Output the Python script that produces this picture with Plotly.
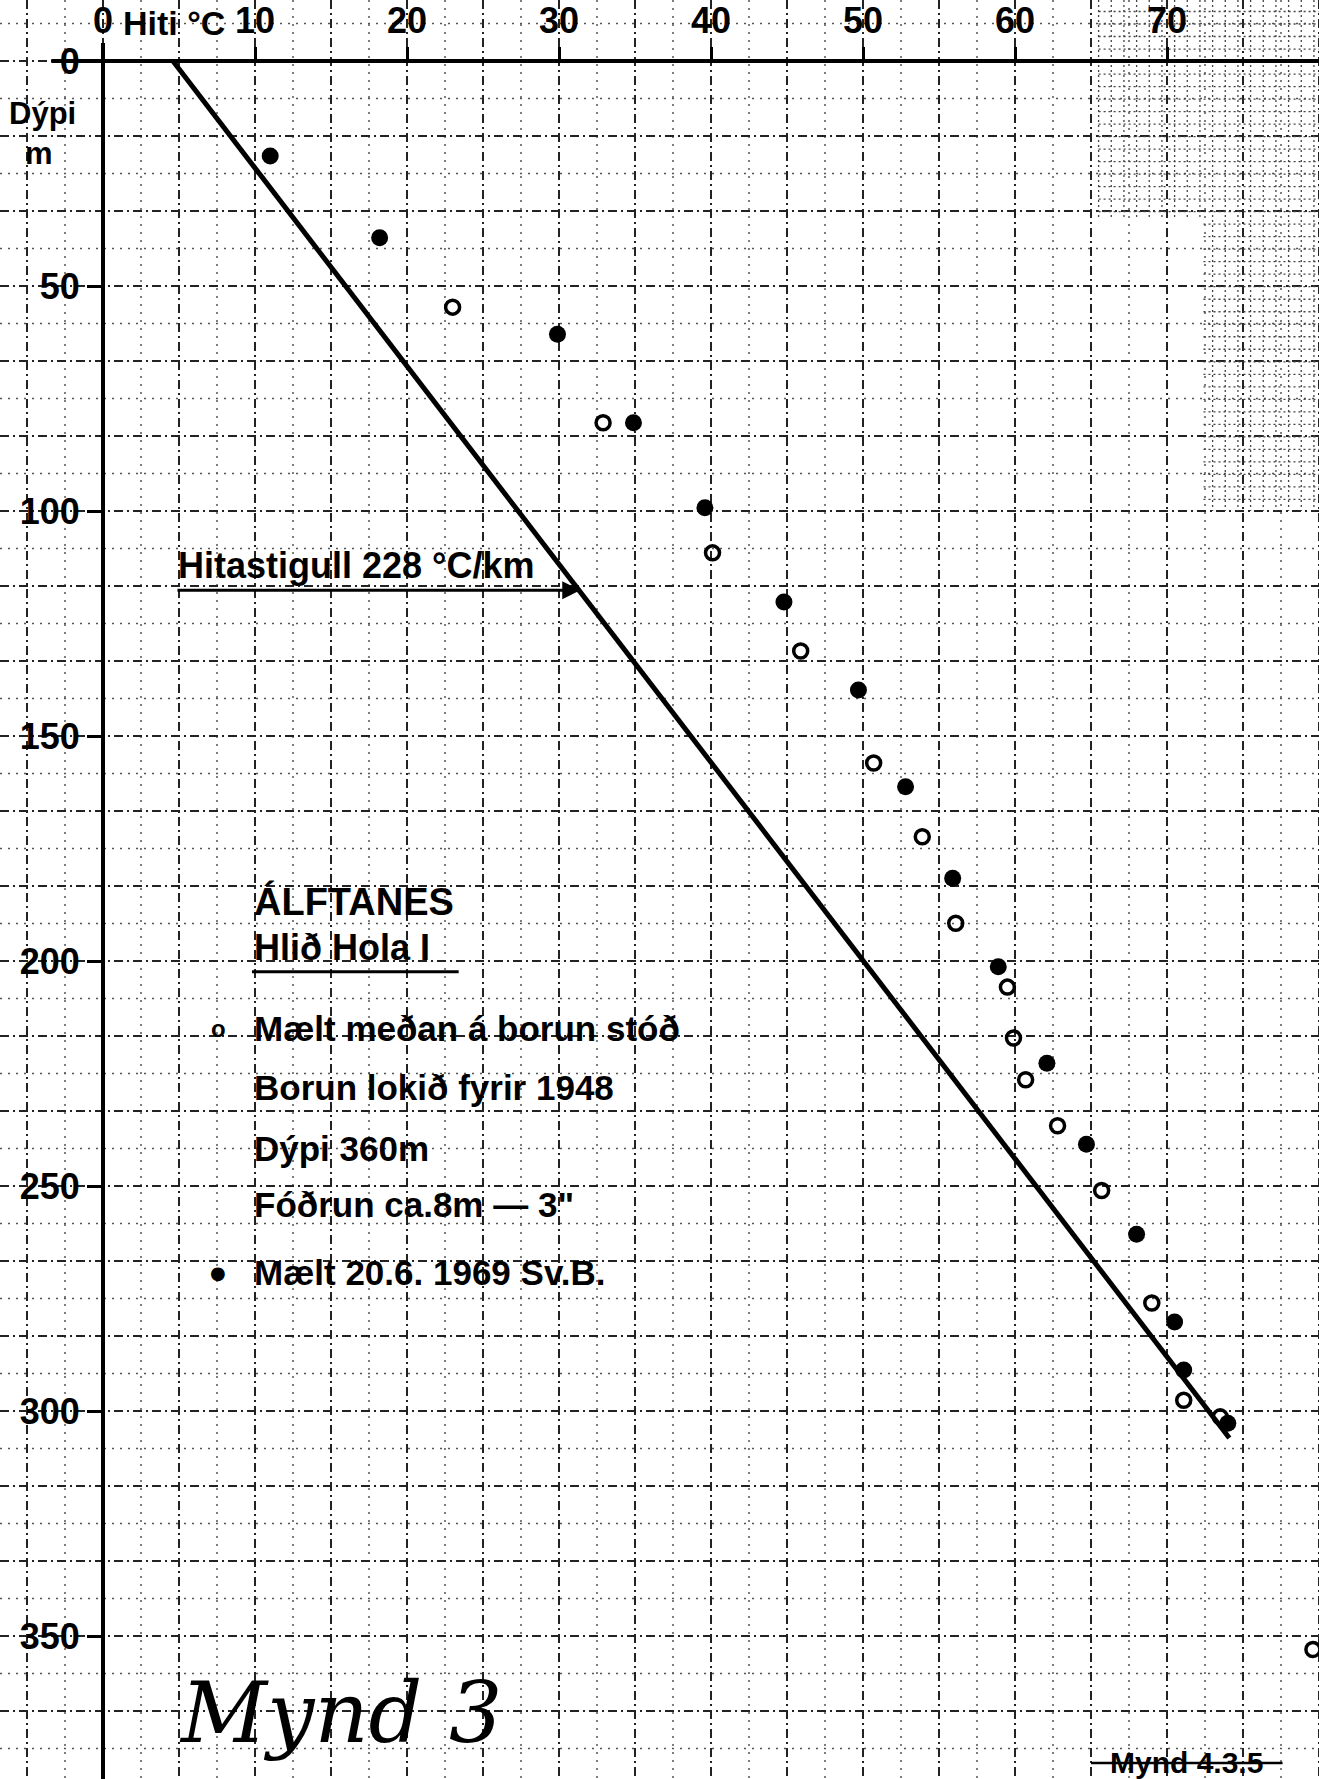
import numpy as np
import plotly.graph_objects as go

# ---------------- data ----------------
# Line: temperature gradient 228 °C/km
line_T = [4.6, 74.1]
line_z = [0, 306]

# Open circles: "Mælt meðan á borun stóð"
open_T = [23.0, 32.9, 40.1, 45.9, 50.7, 53.9, 56.1, 59.5, 59.9, 60.7, 62.8, 65.7, 69.0, 71.1, 73.5, 79.6]
open_z = [54.7, 80.4, 109.3, 131.1, 156.0, 172.4, 191.6, 205.8, 217.1, 226.4, 236.6, 251.0, 276.0, 297.6, 301.3, 353.0]

# Filled circles: "Mælt 20.6. 1969 Sv.B."
fill_T = [11.0, 18.2, 29.9, 34.9, 39.6, 44.8, 49.7, 52.8, 55.9, 58.9, 62.1, 64.7, 68.0, 70.5, 71.1, 74.0]
fill_z = [21.1, 39.3, 60.7, 80.4, 99.3, 120.2, 139.8, 161.3, 181.6, 201.3, 222.7, 240.7, 260.7, 280.2, 290.9, 302.7]

x_ticks = [0, 10, 20, 30, 40, 50, 60, 70]
x_ticktext = ["0", "10", "20", "30", "40", "50", "60", "70"]
y_ticks = [0, 50, 100, 150, 200, 250, 300, 350]
y_ticktext = ["0", "50", "100", "150", "200", "250", "300", "350"]

legend_lines = [
    "Mælt meðan á borun stóð",
    "Borun lokið fyrir 1948",
    "Dýpi 360m",
    "Fóðrun ca.8m — 3\"",
    "Mælt 20.6. 1969 Sv.B.",
]

# ---------------- figure ----------------
W, H = 1319, 1779
X0_PX, Y0_PX = 103, 61
PX_PER_C, PX_PER_M = 15.2, 4.5
X_RANGE = [-X0_PX / PX_PER_C, (W - X0_PX) / PX_PER_C]
Y_RANGE = [(H - Y0_PX) / PX_PER_M, -Y0_PX / PX_PER_M]
FONT = "Liberation Sans"

fig = go.Figure()

fig.add_trace(go.Scatter(x=line_T, y=line_z, mode="lines",
                         line=dict(color="black", width=5), showlegend=False, hoverinfo="skip"))
fig.add_trace(go.Scatter(x=open_T, y=open_z, mode="markers",
                         marker=dict(symbol="circle-open", size=14, color="black",
                                     line=dict(width=3.5, color="black")),
                         showlegend=False))
fig.add_trace(go.Scatter(x=fill_T, y=fill_z, mode="markers",
                         marker=dict(symbol="circle", size=17, color="black"),
                         showlegend=False))

shapes = []
MAJ = dict(color="#222", width=2, dash="9px,4px,2px,4px")
MIN = dict(color="#555", width=1.5, dash="2px,6px")
FINE = dict(color="#444", width=1.3, dash="2px,3px")
# graph-paper grid
for t in np.arange(-5, 80.01, 2.5):
    major = abs(t / 5 - round(t / 5)) < 1e-6
    shapes.append(dict(type="line", xref="x", yref="y", x0=t, x1=t, y0=Y_RANGE[1], y1=Y_RANGE[0],
                       layer="below", line=MAJ if major else MIN))
step = 50 / 6
for k in range(-1, 47):
    z = k * step
    shapes.append(dict(type="line", xref="x", yref="y", x0=X_RANGE[0], x1=X_RANGE[1], y0=z, y1=z,
                       layer="below", line=MAJ if k % 2 == 0 else MIN))
# denser paper region, top right
for t in np.arange(65.5, 80.01, 0.8333):
    shapes.append(dict(type="line", xref="x", yref="y", x0=t, x1=t, y0=Y_RANGE[1],
                       y1=35 if t < 72.4 else 100, layer="below", line=FINE))
for z in np.arange(-11, 100.01, 2.78):
    shapes.append(dict(type="line", xref="x", yref="y", x0=65.5 if z < 35 else 72.4, x1=X_RANGE[1],
                       y0=z, y1=z, layer="below", line=FINE))
# axes lines
shapes.append(dict(type="line", xref="x", yref="y", x0=-3.4, x1=X_RANGE[1], y0=0, y1=0,
                   line=dict(color="black", width=4)))
shapes.append(dict(type="line", xref="x", yref="y", x0=0, x1=0, y0=-4, y1=Y_RANGE[0],
                   line=dict(color="black", width=4)))
# underline of the title
shapes.append(dict(type="line", xref="x", yref="y", x0=9.8, x1=23.4, y0=202.4, y1=202.4,
                   line=dict(color="black", width=3)))
# strike-through of "Mynd 4.3.5"
shapes.append(dict(type="line", xref="x", yref="y", x0=65.0, x1=77.6, y0=378.2, y1=378.2,
                   line=dict(color="black", width=2.5)))

ann = []
ann.append(dict(x=4.7, y=-8.4, text="<b>Hiti °C</b>", showarrow=False, xanchor="center", yanchor="middle",
                font=dict(size=34, color="black", family=FONT)))
ann.append(dict(x=-3.95, y=11.6, text="<b>Dýpi</b>", showarrow=False, xanchor="center", yanchor="middle",
                font=dict(size=31, color="black", family=FONT)))
ann.append(dict(x=-4.2, y=20.6, text="<b>m</b>", showarrow=False, xanchor="center", yanchor="middle",
                font=dict(size=31, color="black", family=FONT)))
# gradient label and arrow
ann.append(dict(x=4.8, y=112.0, text="<b>Hitastigull 228 °C/km</b>", showarrow=False,
                xanchor="left", yanchor="middle",
                font=dict(size=36, color="black", family=FONT)))
ann.append(dict(x=31.4, y=117.6, ax=4.8, ay=117.6, axref="x", ayref="y", xref="x", yref="y",
                text="", showarrow=True, arrowhead=2, arrowsize=1.2, arrowwidth=3,
                arrowcolor="black"))
# legend block
ann.append(dict(x=9.8, y=186.7, text="<b>ÁLFTANES</b>", showarrow=False, xanchor="left", yanchor="middle",
                font=dict(size=38, color="black", family=FONT)))
ann.append(dict(x=9.8, y=196.9, text="<b>Hlið Hola I</b>", showarrow=False, xanchor="left", yanchor="middle",
                font=dict(size=36, color="black", family=FONT)))
leg_z = [214.9, 228.2, 241.7, 254.0, 269.3]
for txt, z in zip(legend_lines, leg_z):
    ann.append(dict(x=9.8, y=z, text="<b>" + txt + "</b>", showarrow=False, xanchor="left", yanchor="middle",
                    font=dict(size=35, color="black", family=FONT)))
ann.append(dict(x=7.57, y=leg_z[0], text="<b>o</b>", showarrow=False, xanchor="center", yanchor="middle",
                font=dict(size=24, color="black", family=FONT)))
ann.append(dict(x=7.57, y=leg_z[4], text="●", showarrow=False, xanchor="center", yanchor="middle",
                font=dict(size=18, color="black", family="DejaVu Sans")))
# handwritten figure number
ann.append(dict(x=15.6, y=367.0, text="<i>Mynd 3</i>", showarrow=False, xanchor="center", yanchor="middle",
                font=dict(size=84, color="black", family="DejaVu Serif")))
ann.append(dict(x=71.3, y=378.0, text="<b>Mynd 4.3.5</b>", showarrow=False, xanchor="center", yanchor="middle",
                font=dict(size=30, color="black", family=FONT)))

fig.update_layout(
    width=W, height=H,
    margin=dict(l=0, r=0, t=0, b=0),
    paper_bgcolor="white", plot_bgcolor="white",
    shapes=shapes, annotations=ann,
    xaxis=dict(range=X_RANGE, side="top", anchor="free", position=1 - Y0_PX / H,
               showgrid=False, zeroline=False, showline=False,
               tickmode="array", tickvals=x_ticks, ticktext=["<b>%s</b>" % s for s in x_ticktext],
               ticks="outside", ticklen=14, tickwidth=3, tickcolor="black",
               tickfont=dict(size=36, color="black", family=FONT)),
    yaxis=dict(range=Y_RANGE, anchor="free", position=X0_PX / W,
               showgrid=False, zeroline=False, showline=False,
               tickmode="array", tickvals=y_ticks, ticktext=["<b>%s</b>" % s for s in y_ticktext],
               ticks="outside", ticklen=16, tickwidth=3, tickcolor="black",
               tickfont=dict(size=36, color="black", family=FONT)),
    showlegend=False,
)

fig.write_html("out.html", config={"displayModeBar": False},
               post_script="document.body.style.margin='0';document.body.style.overflow='hidden';")
